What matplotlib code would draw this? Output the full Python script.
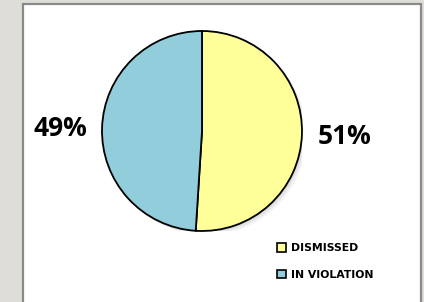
import matplotlib.pyplot as plt
from matplotlib.patches import Rectangle, Patch

labels = ['DISMISSED', 'IN VIOLATION']
shares = [51, 49]
pct_labels = ['51%', '49%']
colors = ['#FFFF99', '#92CDDC']

W, H = 424, 302
fig = plt.figure(figsize=(W / 100, H / 100), dpi=100)
fig.patch.set_facecolor('#DEDDD8')

# white chart panel with gray frame
fig.patches.append(Rectangle((23 / W, -0.05), 398 / W, (H - 4) / H + 0.05,
                             transform=fig.transFigure, facecolor='white',
                             edgecolor='#8A8A8A', linewidth=1.6, zorder=-1))

# pie centred at (202, 131) px, radius 100 px
cx, cy, r = 202, H - 131, 100
ax = fig.add_axes([(cx - r) / W, (cy - r) / H, 2 * r / W, 2 * r / H])
wedges, _ = ax.pie(shares, colors=colors, startangle=90, counterclock=False,
                   wedgeprops=dict(edgecolor='black', linewidth=1.3))
# faint soft shadow
for off, a in [(0.045, 0.04), (0.03, 0.05), (0.015, 0.06)]:
    ax.add_patch(plt.Circle((off, -off), 1.0, color='#000000', alpha=a, zorder=0, lw=0))
ax.set_xlim(-1, 1)
ax.set_ylim(-1, 1)
ax.axis('off')

ax.text(1.43, -0.05, pct_labels[0], fontsize=19, fontweight='bold',
        family='Open Sans', ha='center', va='center', clip_on=False)
ax.text(-1.42, 0.02, pct_labels[1], fontsize=19, fontweight='bold',
        family='Open Sans', ha='center', va='center', clip_on=False)

handles = [Patch(facecolor=c, edgecolor='black', linewidth=1.2) for c in colors]
fig.legend(handles, labels, loc='upper left', bbox_to_anchor=(273 / W, 1 - 239 / H),
           frameon=False, prop=dict(family='DejaVu Sans', weight='bold', size=7.8),
           handlelength=0.8, handleheight=0.8, handletextpad=0.5, labelspacing=1.5,
           borderaxespad=0)

fig.savefig('out.png', dpi=100, facecolor=fig.get_facecolor())
